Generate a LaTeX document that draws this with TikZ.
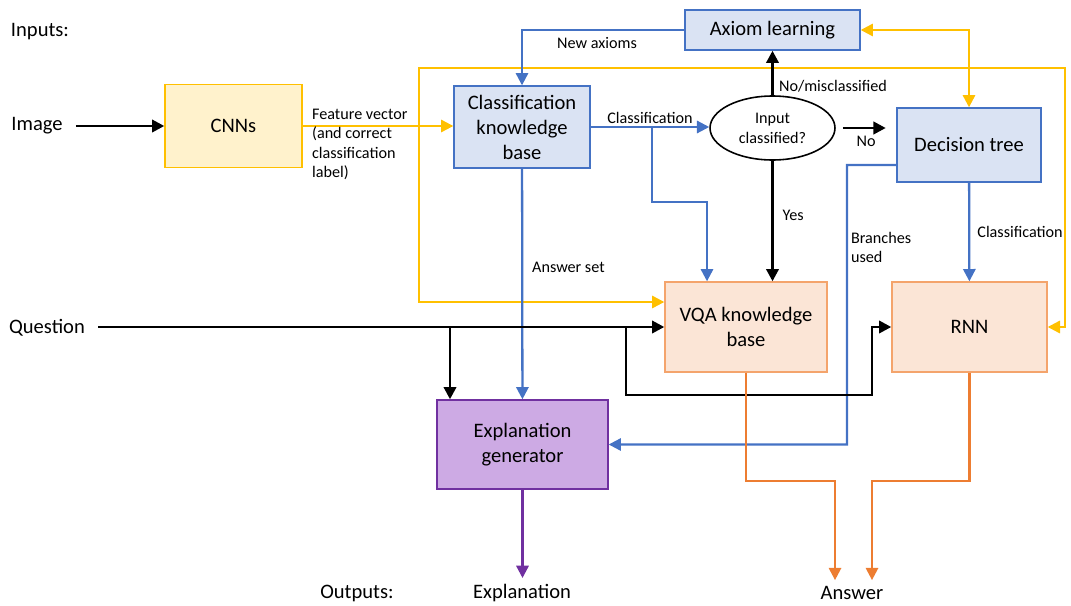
\documentclass[tikz,border=0pt]{standalone}
\usepackage{fontspec}
\setmainfont{Carlito}
\usepackage{tikz}
\usetikzlibrary{calc, positioning, shapes.geometric, arrows.meta}

\definecolor{lineblue}{HTML}{4472C4}
\definecolor{boxblue}{HTML}{DAE3F3}
\definecolor{lineyellow}{HTML}{FFC000}
\definecolor{boxyellow}{HTML}{FFF2CC}
\definecolor{lineorange}{HTML}{ED7D31}
\definecolor{edgeorange}{HTML}{F4A46C}
\definecolor{boxorange}{HTML}{FBE5D6}
\definecolor{linepurple}{HTML}{7030A0}
\definecolor{boxpurple}{HTML}{CDAAE4}

\begin{document}
\begin{tikzpicture}[x=0.02cm, y=-0.02cm,
            box/.style={draw, line width=0.8pt, inner sep=0pt, align=center,
                font=\fontsize{11.7}{14.2}\selectfont},
            bluebox/.style={box, draw=lineblue, fill=boxblue},
            orangebox/.style={box, draw=edgeorange, fill=boxorange},
            lbl/.style={font=\fontsize{9.2}{11}\selectfont, inner sep=1pt, text=black},
            big/.style={font=\fontsize{11.7}{14.2}\selectfont},
            tip/.style={-{Triangle[length=7pt, width=7pt]}},
            blk/.style={tip, line width=1.6pt, black},
            blu/.style={tip, line width=1.3pt, lineblue},
            yel/.style={tip, line width=1.3pt, lineyellow},
            ora/.style={tip, line width=1.3pt, lineorange},
            pur/.style={tip, line width=1.3pt, linepurple}]
            \useasboundingbox (0,0) rectangle (1071,605);

            \node[big] (inputs) at (40,32) {Inputs:};
            \node[big] (outputs) at (357,593) {Outputs:};
            \node[big] (image) at (37,126) {Image};
            \node[big] (question) at (47,328) {Question};
            \node[big] (explout) at (522,593) {Explanation};
            \node[big] (answer) at (852,593) {Answer};

            \node[bluebox, minimum width=3.5cm, minimum height=0.8cm] (axiom) at (772.5,30) {Axiom learning};
            \node[box, draw=lineyellow, fill=boxyellow, minimum width=2.74cm, minimum height=1.66cm] (cnn) at (233.5,126) {CNNs};
            \node[bluebox, minimum width=2.72cm, minimum height=1.64cm] (ckb) at (522,127) {Classification\\knowledge\\base};
            \node[draw, ellipse, line width=0.9pt, inner sep=0pt, minimum width=2.5cm, minimum height=1.28cm,
                align=center, font=\fontsize{9.2}{11.5}\selectfont] (check) at (772.5,128) {Input\\classified?};
            \node[bluebox, minimum width=2.88cm, minimum height=1.48cm] (dtree) at (969,145) {Decision tree};
            \node[orangebox, minimum width=3.24cm, minimum height=1.8cm] (vqa) at (746,327) {VQA knowledge\\base};
            \node[orangebox, minimum width=3.1cm, minimum height=1.8cm] (rnn) at (969.5,327) {RNN};
            \node[box, draw=linepurple, fill=boxpurple, minimum width=3.42cm, minimum height=1.78cm] (expl) at (522.5,444.5) {Explanation\\generator};

            \coordinate (fv) at (419,127);
            \coordinate (cb) at (652,127);
            \coordinate (qa) at (450,327);
            \coordinate (qb) at (626,327);

            \draw[blk, shorten <=4pt] (image.east) -- (image.east -| cnn.west);
            \draw[yel] (cnn.east) -- (cnn.east -| ckb.west);
            \node[lbl, align=left, anchor=north west] (fvlabel) at (310,107) {Feature vector\\(and correct\\classification\\label)};
            \draw[yel] (fv) |- ([yshift=0.5cm]vqa.west);
            \draw[yel] (fv) |- (1065,68) |- (rnn.east);
            \draw[yel, {Triangle[length=7pt, width=7pt]}-{Triangle[length=7pt, width=7pt]}] (axiom.east) -| (dtree.north);

            \draw[blu] (axiom.west) -| (ckb.north);
            \node[lbl] (newax) at (597,43) {New axioms};
            \draw[blu] (ckb.east) -- node[lbl, above] {Classification} (ckb.east -| check.west);
            \draw[blu] (cb) -- (652,202) -| ([xshift=-0.78cm]vqa.north);
            \draw[blu] (ckb) -- node[lbl, pos=0.43, right=4pt] {Answer set} (expl);
            \draw[blu] ([yshift=-0.4cm]dtree.west) -- (847,165) |- (expl.east);
            \node[lbl, align=left, anchor=north west] (branches) at (849,230) {Branches\\used};
            \draw[blu] (dtree) -- node[lbl, right=3pt] {Classification} (rnn);

            \draw[blk] (check.north) -- (axiom.south);
            \node[lbl, anchor=west] (nomis) at (777,86) {No/misclassified};
            \draw[blk, shorten <=4pt, shorten >=6pt] (check.east) -- node[lbl, below=3pt] {No} (check.east -| dtree.west);
            \draw[blk] (check.south) -- node[lbl, right=4pt, pos=0.45] {Yes} (check.south |- vqa.north);

            \draw[blk, shorten <=4pt] (question.east |- vqa.west) -- (vqa.west);
            \draw[blk] (qa) -- (qa |- expl.north);
            \draw[blk] (qb) |- (872,395) |- (rnn.west);

            \draw[pur] (expl.south) -- (expl.south |- explout.north);
            \draw[ora] (vqa.south) -- ++(0,108) -| ([xshift=-0.34cm]answer.north);
            \draw[ora] (rnn.south) -- ++(0,108) -| ([xshift=0.4cm]answer.north);
\end{tikzpicture}
\end{document}
